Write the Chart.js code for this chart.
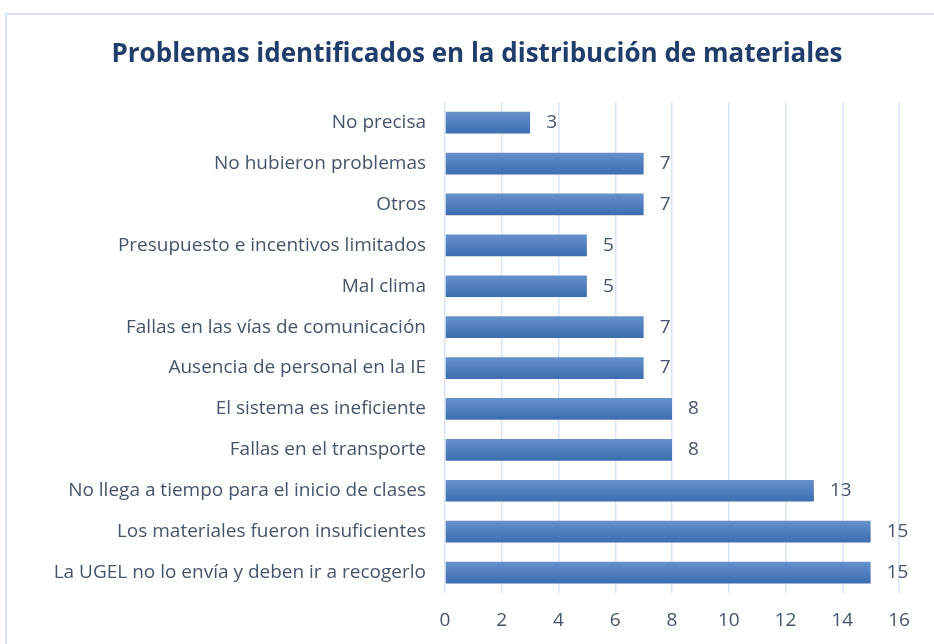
<!DOCTYPE html>
<html>
<head>
  <title>Problemas identificados</title>
  <meta charset="UTF-8">
  <style>
    body {
      margin: 0;
      background: #fff;
      overflow: hidden;
    }
    #frame {
      position: absolute;
      left: 5px;
      top: 13px;
      width: 980px;
      height: 700px;
      border: 2px solid #D5E2F3;
    }
    #chart {
      position: absolute;
      left: 0;
      top: 0;
    }
  </style>
  <script src="https://cdn.jsdelivr.net/npm/chart.js"></script>
</head>
<body>
  <div id="frame"></div>
  <canvas id="chart" width="934" height="644"></canvas>

  <script>
  const problemas = [
    "No precisa",
    "No hubieron problemas",
    "Otros",
    "Presupuesto e incentivos limitados",
    "Mal clima",
    "Fallas en las vías de comunicación",
    "Ausencia de personal en la IE",
    "El sistema es ineficiente",
    "Fallas en el transporte",
    "No llega a tiempo para el inicio de clases",
    "Los materiales fueron insuficientes",
    "La UGEL no lo envía y deben ir a recogerlo"
  ];
  const cantidades = [3, 7, 7, 5, 5, 7, 7, 8, 8, 13, 15, 15];
  const xTicks = [0, 2, 4, 6, 8, 10, 12, 14, 16];

  const textColor = "#44546A";
  const fontName = "'Open Sans', sans-serif";

  // vertical gradient on each bar
  function barFill(c) {
    const ys = c.chart.scales.y;
    if (!ys || c.type !== "data") return "#4F81BD";
    const yc = ys.getPixelForValue(c.dataIndex);
    if (!Number.isFinite(yc)) return "#4F81BD";
    const g = c.chart.ctx.createLinearGradient(0, yc - 11, 0, yc + 11);
    g.addColorStop(0, "#6691CC");
    g.addColorStop(1, "#3C6DB0");
    return g;
  }

  // value labels at the end of bars
  const valueLabels = {
    id: "valueLabels",
    afterDatasetsDraw(chart) {
      const ctx = chart.ctx;
      const meta = chart.getDatasetMeta(0);
      ctx.save();
      ctx.fillStyle = textColor;
      ctx.font = "19px " + fontName;
      ctx.textAlign = "left";
      ctx.textBaseline = "middle";
      meta.data.forEach((bar, i) => {
        ctx.fillText(String(cantidades[i]), bar.x + 16, bar.y);
      });
      ctx.restore();
    }
  };

  new Chart(document.getElementById("chart").getContext("2d"), {
    type: "bar",
    data: {
      labels: problemas,
      datasets: [{
        data: cantidades,
        backgroundColor: barFill,
        borderWidth: 0,
        categoryPercentage: 1,
        barPercentage: 0.53
      }]
    },
    options: {
      indexAxis: "y",
      responsive: false,
      animation: false,
      layout: { padding: { left: 55, right: 35, top: 0, bottom: 0 } },
      plugins: {
        legend: { display: false },
        tooltip: { enabled: false },
        title: {
          display: true,
          text: "Problemas identificados en la distribución de materiales",
          color: "#203D6B",
          font: { family: fontName, size: 26, weight: "bold", lineHeight: 1.2 },
          padding: { top: 39, bottom: 32 }
        }
      },
      scales: {
        x: {
          min: 0,
          max: 16,
          afterBuildTicks(scale) {
            scale.ticks = xTicks.map(v => ({ value: v }));
          },
          afterFit(scale) { scale.height = 51; },
          grid: { color: "#D9E5F4", lineWidth: 1.5, drawTicks: false },
          border: { display: false },
          ticks: { color: textColor, padding: 16, font: { family: fontName, size: 19 } }
        },
        y: {
          afterFit(scale) { scale.width = 390; },
          grid: { display: false },
          border: { display: false },
          ticks: { color: textColor, padding: 11, font: { family: fontName, size: 19 } }
        }
      }
    },
    plugins: [valueLabels]
  });
  </script>
</body>
</html>
